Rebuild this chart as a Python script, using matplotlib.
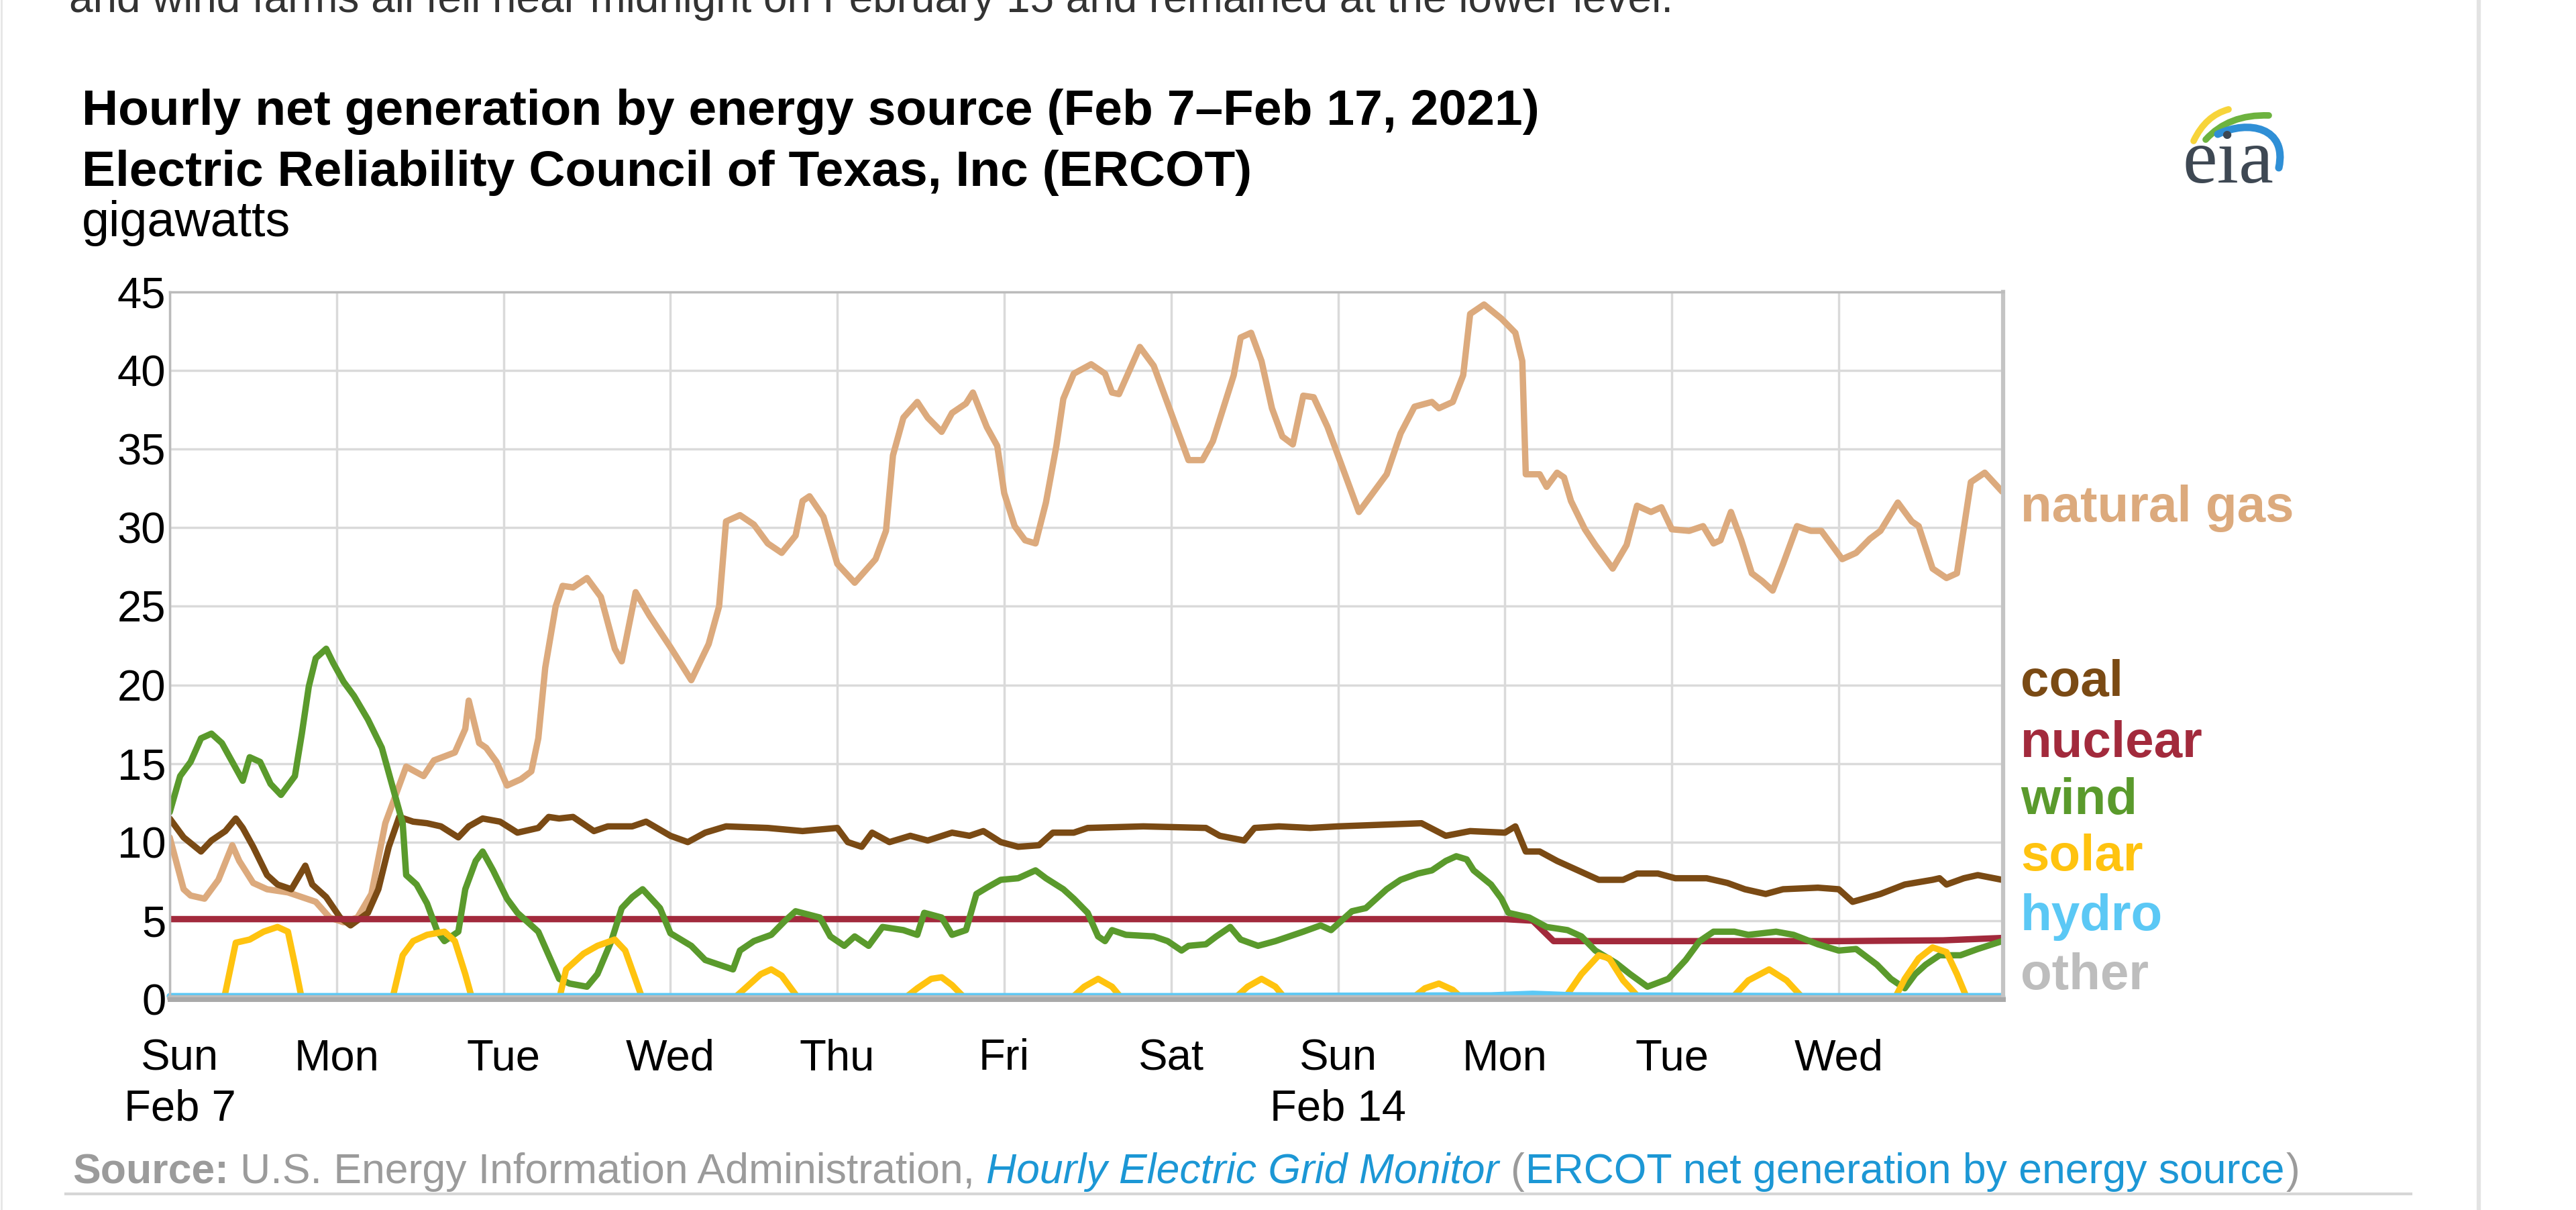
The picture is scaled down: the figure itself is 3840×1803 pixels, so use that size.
import numpy as np
import matplotlib
matplotlib.use('Agg')
import matplotlib.pyplot as plt
import matplotlib.transforms as mtrans
from matplotlib.path import Path
from matplotlib.patches import PathPatch

plt.rcParams['font.family'] = ['Liberation Sans', 'DejaVu Sans']

# hours after Sun Feb 7 2021 00:00, gigawatts
gas_hours = [0, 2, 3, 5, 7, 9, 10, 12, 14, 17, 21, 23, 25, 27, 29, 31, 33, 34, 36.5, 38,
             41, 42.5, 43, 44.5, 45.5, 47, 48.5, 50.5, 52, 53, 54, 55.5, 56.5, 58, 60, 62,
             64, 65, 67, 69, 72, 75, 77.5, 79, 80, 82, 84, 86, 88, 90, 91, 92, 94, 96,
             98.5, 101.5, 103, 104, 105.5, 107.5, 109, 111, 112.5, 114.5, 115.5, 117.5, 119,
             120, 121.5, 123, 124.5, 126, 127.5, 128.5, 130, 132.5, 134.5, 135.5, 136.5, 138,
             139.5, 141.5, 143, 145, 146.5, 148.5, 150, 151.5, 153, 154, 155.5, 157, 158.5,
             160, 161.5, 163, 164.5, 166.5, 168, 171, 173, 175, 177, 179, 181.5, 182.5,
             184.5, 186, 187, 189, 191.5, 193.5, 194.5, 195, 197, 198, 199.5, 200.5, 201.5,
             203.5, 205, 207.5, 209.5, 211, 213, 214.5, 216, 218.5, 220.5, 222, 223, 224.5,
             226, 227.5, 229, 230.5, 232, 234, 236, 237.5, 240.5, 242.5, 244.5, 246, 248.5,
             250.5, 251.5, 253.5, 255.5, 257, 259, 261, 263.5]
gas_gw = [10.3, 7.0, 6.6, 6.4, 7.6, 9.8, 8.8, 7.4, 7.0, 6.8, 6.2, 5.2, 4.9, 5.2, 6.7, 11.2, 13.6, 14.8, 14.2, 15.2,
          15.7, 17.2, 19.0, 16.3, 16.0, 15.1, 13.6, 14.0, 14.5, 16.6, 21.1, 25.0, 26.3, 26.2, 26.8, 25.6,
          22.3, 21.5, 25.9, 24.4, 22.4, 20.3, 22.6, 25.0, 30.4, 30.8, 30.2, 29.0, 28.4, 29.5, 31.7, 32.0, 30.7, 27.7,
          26.5, 28.0, 29.8, 34.6, 37.0, 38.0, 37.0, 36.1, 37.3, 37.9, 38.6, 36.4, 35.2,
          32.2, 30.1, 29.2, 29.0, 31.6, 35.2, 38.2, 39.8, 40.4, 39.8, 38.6, 38.5, 40.0,
          41.5, 40.3, 38.5, 36.1, 34.3, 34.3, 35.5, 37.6, 39.7, 42.1, 42.4, 40.6, 37.6,
          35.8, 35.3, 38.4, 38.3, 36.4, 34.6, 31.0, 32.2, 33.4, 36.0, 37.7, 38.0, 37.6,
          38.0, 39.7, 43.6, 44.2, 43.3, 42.4, 40.6, 33.4, 33.4, 32.6, 33.5, 33.2, 31.7,
          29.9, 28.9, 27.4, 28.9, 31.4, 31.0, 31.3, 29.9, 29.8, 30.1, 29.0, 29.2, 31.0,
          29.2, 27.1, 26.6, 26.0, 27.7, 30.1, 29.8, 29.8, 28.0, 28.4, 29.3, 29.8, 31.6,
          30.4, 30.1, 27.4, 26.8, 27.1, 32.9, 33.5, 32.3]

coal_hours = [0, 2, 4.5, 6, 8, 9.5, 10.5, 12, 14, 15.5, 17.5, 19.5, 20.5, 22.5, 24.5, 26, 28.5, 30,
              31.5, 33, 35, 37, 39, 41.5, 43, 45, 47.5, 50, 53, 54.5, 56, 58, 61, 63, 66.5, 68.5,
              72, 74.5, 77, 80, 86, 91, 96, 97.5, 99.5, 101, 103.5, 106.5, 109, 112.5, 115, 117,
              119.5, 122, 125, 127, 130, 132, 140, 149, 151, 154.5, 156, 159.5, 164, 168, 180,
              183.5, 187, 192, 193.5, 195, 197, 199.5, 202, 205.5, 209, 211, 214, 216.5, 221,
              224, 226.5, 229.5, 232, 237, 240, 242, 246, 249.5, 253.5, 254.5, 255.5, 258, 260, 263.5]
coal_gw = [11.5, 10.3, 9.4, 10.1, 10.7, 11.5, 10.9, 9.7, 7.9, 7.3, 7.0, 8.5, 7.3, 6.5, 5.2, 4.7, 5.5, 7.0,
           9.7, 11.6, 11.3, 11.2, 11.0, 10.3, 11.0, 11.5, 11.3, 10.6, 10.9, 11.6, 11.5, 11.6, 10.7, 11.0, 11.0, 11.3,
           10.4, 10.0, 10.6, 11.0, 10.9, 10.7, 10.9, 10.0, 9.7, 10.6, 10.0, 10.4, 10.1, 10.6, 10.4, 10.7,
           10.0, 9.7, 9.8, 10.6, 10.6, 10.9, 11.0, 10.9, 10.4, 10.1, 10.9, 11.0, 10.9, 11.0, 11.2,
           10.4, 10.7, 10.6, 11.0, 9.4, 9.4, 8.8, 8.3, 7.6, 7.6, 8.0, 8.0, 7.7, 7.7,
           7.4, 7.0, 6.7, 7.0, 7.1, 7.0, 6.2, 6.7, 7.3, 7.6, 7.7, 7.3, 7.7, 7.9, 7.6]

nuclear_hours = [0, 48, 96, 144, 192, 196, 199, 216, 240, 255, 263.5]
nuclear_gw = [5.1, 5.1, 5.1, 5.1, 5.1, 5.0, 3.7, 3.7, 3.7, 3.75, 3.9]

wind_hours = [0, 1.5, 3, 4.5, 6, 7.5, 9, 10.5, 11.5, 13, 14.5, 16, 18, 19, 20, 21, 22.5, 23.5, 25,
              26.5, 28.5, 30.5, 32, 33.5, 34, 35.5, 37, 38.5, 39.5, 41.5, 42.5, 44, 45, 46.5, 48.5,
              50, 53, 54.5, 56, 57.5, 60, 61.5, 63.5, 65, 66.5, 68, 70.5, 72, 75, 77, 81, 82, 84,
              86.5, 88.5, 90, 93.5, 95, 97, 98.5, 100.5, 102.5, 105.5, 107.5, 108.5, 111, 112.5,
              114.5, 116, 117.5, 119.5, 122, 124.5, 126, 128.5, 130, 132, 133.5, 134.5, 135.5,
              137.5, 141.5, 143.5, 145.5, 146.5, 149, 150.5, 152.5, 154, 156.5, 159, 161, 163,
              165.5, 167, 170, 172, 175, 177, 179.5, 181.5, 183.5, 185, 186.5, 187.5, 190, 191.5,
              192.5, 195.5, 198, 201, 203, 205, 208, 210, 212.5, 215.5, 218, 220, 222, 225, 227,
              231, 233.5, 237, 240, 242.5, 245.5, 247.5, 249.5, 251, 252.5, 254.5, 257.5, 260, 263.5]
wind_gw = [11.9, 14.2, 15.1, 16.6, 16.9, 16.3, 15.1, 13.9, 15.4, 15.1, 13.7, 13.0, 14.2, 16.9, 19.9, 21.7, 22.3, 21.4, 20.2,
           19.3, 17.8, 16.0, 13.6, 11.2, 7.9, 7.3, 6.1, 4.3, 3.7, 4.3, 7.0, 8.8, 9.4, 8.2, 6.4,
           5.5, 4.3, 2.8, 1.3, 1.0, 0.8, 1.6, 3.7, 5.8, 6.5, 7.0, 5.8, 4.2, 3.4, 2.5, 1.9, 3.1, 3.7,
           4.1, 5.0, 5.6, 5.2, 4.0, 3.4, 4.0, 3.4, 4.6, 4.4, 4.1, 5.5, 5.2, 4.1,
           4.4, 6.7, 7.1, 7.6, 7.7, 8.2, 7.7, 7.0, 6.4, 5.5, 4.0, 3.7, 4.4,
           4.1, 4.0, 3.7, 3.1, 3.4, 3.5, 4.0, 4.6, 3.8, 3.4, 3.7, 4.0, 4.3,
           4.7, 4.4, 5.6, 5.8, 7.0, 7.6, 8.0, 8.2, 8.8, 9.1, 8.9, 8.2, 7.3, 6.4,
           5.5, 5.2, 4.6, 4.4, 4.0, 3.1, 2.3, 1.6, 0.8, 1.3, 2.5, 3.7, 4.3, 4.3, 4.1,
           4.3, 4.1, 3.5, 3.1, 3.2, 2.2, 1.3, 0.7, 1.6, 2.2, 2.8, 2.8, 3.2, 3.7]

solar_hours = [0, 7.8, 9.5, 11.5, 13.5, 15.5, 17, 18, 19,
               32, 33.5, 35, 37, 39.5, 41, 42.5, 43.5,
               56, 57, 59.5, 61.5, 64, 65.5, 68,
               81, 83, 85, 86.5, 88, 89.5, 90.5,
               105.5, 107.5, 109.5, 111, 112.5, 114.5,
               129.5, 131.5, 133.5, 135.5, 137,
               153, 155, 157, 159, 160.5,
               178.5, 180.5, 182.5, 184.5, 186,
               200.5, 203, 205.5, 207, 209, 211.5,
               224.5, 227, 230, 232.5, 235,
               248, 249.5, 251.5, 253.5, 255.5, 257, 258.5, 263.5]
solar_gw = [0, 0, 3.6, 3.8, 4.3, 4.6, 4.3, 2.2, 0,
            0, 2.8, 3.7, 4.1, 4.3, 3.7, 1.6, 0,
            0, 1.9, 2.9, 3.4, 3.8, 3.1, 0,
            0, 0.8, 1.6, 1.9, 1.5, 0.6, 0,
            0, 0.7, 1.3, 1.4, 0.9, 0,
            0, 0.8, 1.3, 0.8, 0,
            0, 0.8, 1.3, 0.8, 0,
            0, 0.7, 1.0, 0.6, 0,
            0, 1.6, 2.8, 2.6, 1.2, 0,
            0, 1.2, 1.9, 1.2, 0,
            0, 1.3, 2.6, 3.3, 3.0, 1.6, 0, 0]

hydro_hours = [0, 48, 96, 144, 190, 196, 202, 240, 263.5]
hydro_gw = [0.2, 0.2, 0.2, 0.2, 0.25, 0.35, 0.25, 0.2, 0.2]

other_hours = [0, 96, 192, 263.5]
other_gw = [0.1, 0.1, 0.1, 0.1]

series = [
    ('natural gas', gas_hours, gas_gw, '#DCAA7D', 30.4),
    ('coal', coal_hours, coal_gw, '#7A4A14', 19.3),
    ('nuclear', nuclear_hours, nuclear_gw, '#A22A3C', 15.4),
    ('wind', wind_hours, wind_gw, '#5A9A2C', 11.8),
    ('solar', solar_hours, solar_gw, '#FFC30F', 8.2),
    ('hydro', hydro_hours, hydro_gw, '#5BC8F5', 4.4),
    ('other', other_hours, other_gw, '#BDBDBD', 0.66),
]

day_names = ['Sun\nFeb 7', 'Mon', 'Tue', 'Wed', 'Thu', 'Fri', 'Sat', 'Sun\nFeb 14', 'Mon', 'Tue', 'Wed']

W, H = 3840, 1803
fig = plt.figure(figsize=(W / 100, H / 100), dpi=100)

# page layer in pixel coordinates
bg = fig.add_axes([0, 0, 1, 1], zorder=-1)
bg.set_xlim(0, W)
bg.set_ylim(H, 0)
bg.axis('off')

ax = fig.add_axes([253 / W, 1 - 1489 / H, (2986 - 253) / W, (1489 - 435) / H])
for name, hrs, vals, col, ylab in series:
    ax.plot(np.array(hrs) / 24.0, vals, color=col, lw=6.8, solid_capstyle='round',
            solid_joinstyle='round', clip_on=name not in ('hydro', 'other'))
    ax.text(1.0095, ylab, name, transform=ax.get_yaxis_transform(), color=col,
            fontsize=55, fontweight='bold', ha='left', va='baseline')

ax.set_xlim(0, 10.985)
ax.set_ylim(0, 45)
ax.set_yticks(range(0, 46, 5))
ax.set_xticks(range(11))
ax.set_xticklabels(day_names, linespacing=1.32)
ax.tick_params(axis='both', length=0, labelsize=47, colors='black')
ax.tick_params(axis='y', pad=4)
ax.tick_params(axis='x', pad=42)
# first label sits a little to the right of its gridline
lab0 = ax.get_xticklabels()[0]
lab0.set_transform(lab0.get_transform() + mtrans.ScaledTranslation(0.15, 0, fig.dpi_scale_trans))
ax.grid(True, color='#DADADA', lw=2.5)
ax.set_axisbelow(True)
for s in ['left', 'top']:
    ax.spines[s].set_color('#BBBBBB')
    ax.spines[s].set_linewidth(2.5)
ax.spines['right'].set_color('#C4C4C4')
ax.spines['right'].set_linewidth(4.5)
ax.spines['bottom'].set_color('#A9A9A9')
ax.spines['bottom'].set_linewidth(5)

# titles
bg.text(103, 18, 'and wind farms all fell near midnight on February 15 and remained at the lower level.',
        fontsize=46, color='#333333', ha='left', va='baseline')
bg.text(122, 186, 'Hourly net generation by energy source (Feb 7\u2013Feb 17, 2021)',
        fontsize=54, fontweight='bold', ha='left', va='baseline')
bg.text(122, 277, 'Electric Reliability Council of Texas, Inc (ERCOT)',
        fontsize=54, fontweight='bold', ha='left', va='baseline')
bg.text(122, 352, 'gigawatts', fontsize=53, ha='left', va='baseline')

# eia logo
bg.text(3254, 272, 'eia', fontfamily='Liberation Serif', fontsize=84, color='#3E4853',
        ha='left', va='baseline')
arcs = [
    ([(3270, 210), (3288, 172), (3322, 163)], '#F7D43A', 7),
    ([(3288, 208), (3322, 170), (3382, 172)], '#6DB33F', 7),
]
for pts, col, lw in arcs:
    p = Path(pts, [Path.MOVETO, Path.CURVE3, Path.CURVE3])
    bg.add_patch(PathPatch(p, fill=False, edgecolor=col, lw=lw, capstyle='round'))
p = Path([(3306, 200), (3352, 178), (3410, 190), (3397, 250)],
         [Path.MOVETO, Path.CURVE4, Path.CURVE4, Path.CURVE4])
bg.add_patch(PathPatch(p, fill=False, edgecolor='#2F8FD6', lw=8, capstyle='round'))

# source line
fig.canvas.draw()
r = fig.canvas.get_renderer()
inv = bg.transData.inverted()
pieces = [
    ('Source:', dict(color='#9B9B9B', fontweight='bold'), 17),
    ('U.S. Energy Information Administration,', dict(color='#9B9B9B'), 17),
    ('Hourly Electric Grid Monitor', dict(color='#1C97D5', fontstyle='italic'), 17),
    ('(', dict(color='#9B9B9B'), 2),
    ('ERCOT net generation by energy source', dict(color='#1C97D5'), 2),
    (')', dict(color='#9B9B9B'), 0),
]
x = 108
for txt, kw, gap in pieces:
    t = bg.text(x, 1763, txt, fontsize=45, ha='left', va='baseline', **kw)
    bb = t.get_window_extent(renderer=r)
    x = inv.transform((bb.x1, bb.y0))[0] + gap

# page frame lines
bg.plot([98, 3594], [1779, 1779], color='#D6D6D6', lw=3)
bg.plot([3695, 3695], [0, H], color='#E3E3E3', lw=4.5)
bg.plot([2, 2], [0, H], color='#E6E6E6', lw=2)

fig.savefig('out.png', dpi=100, facecolor='white')
